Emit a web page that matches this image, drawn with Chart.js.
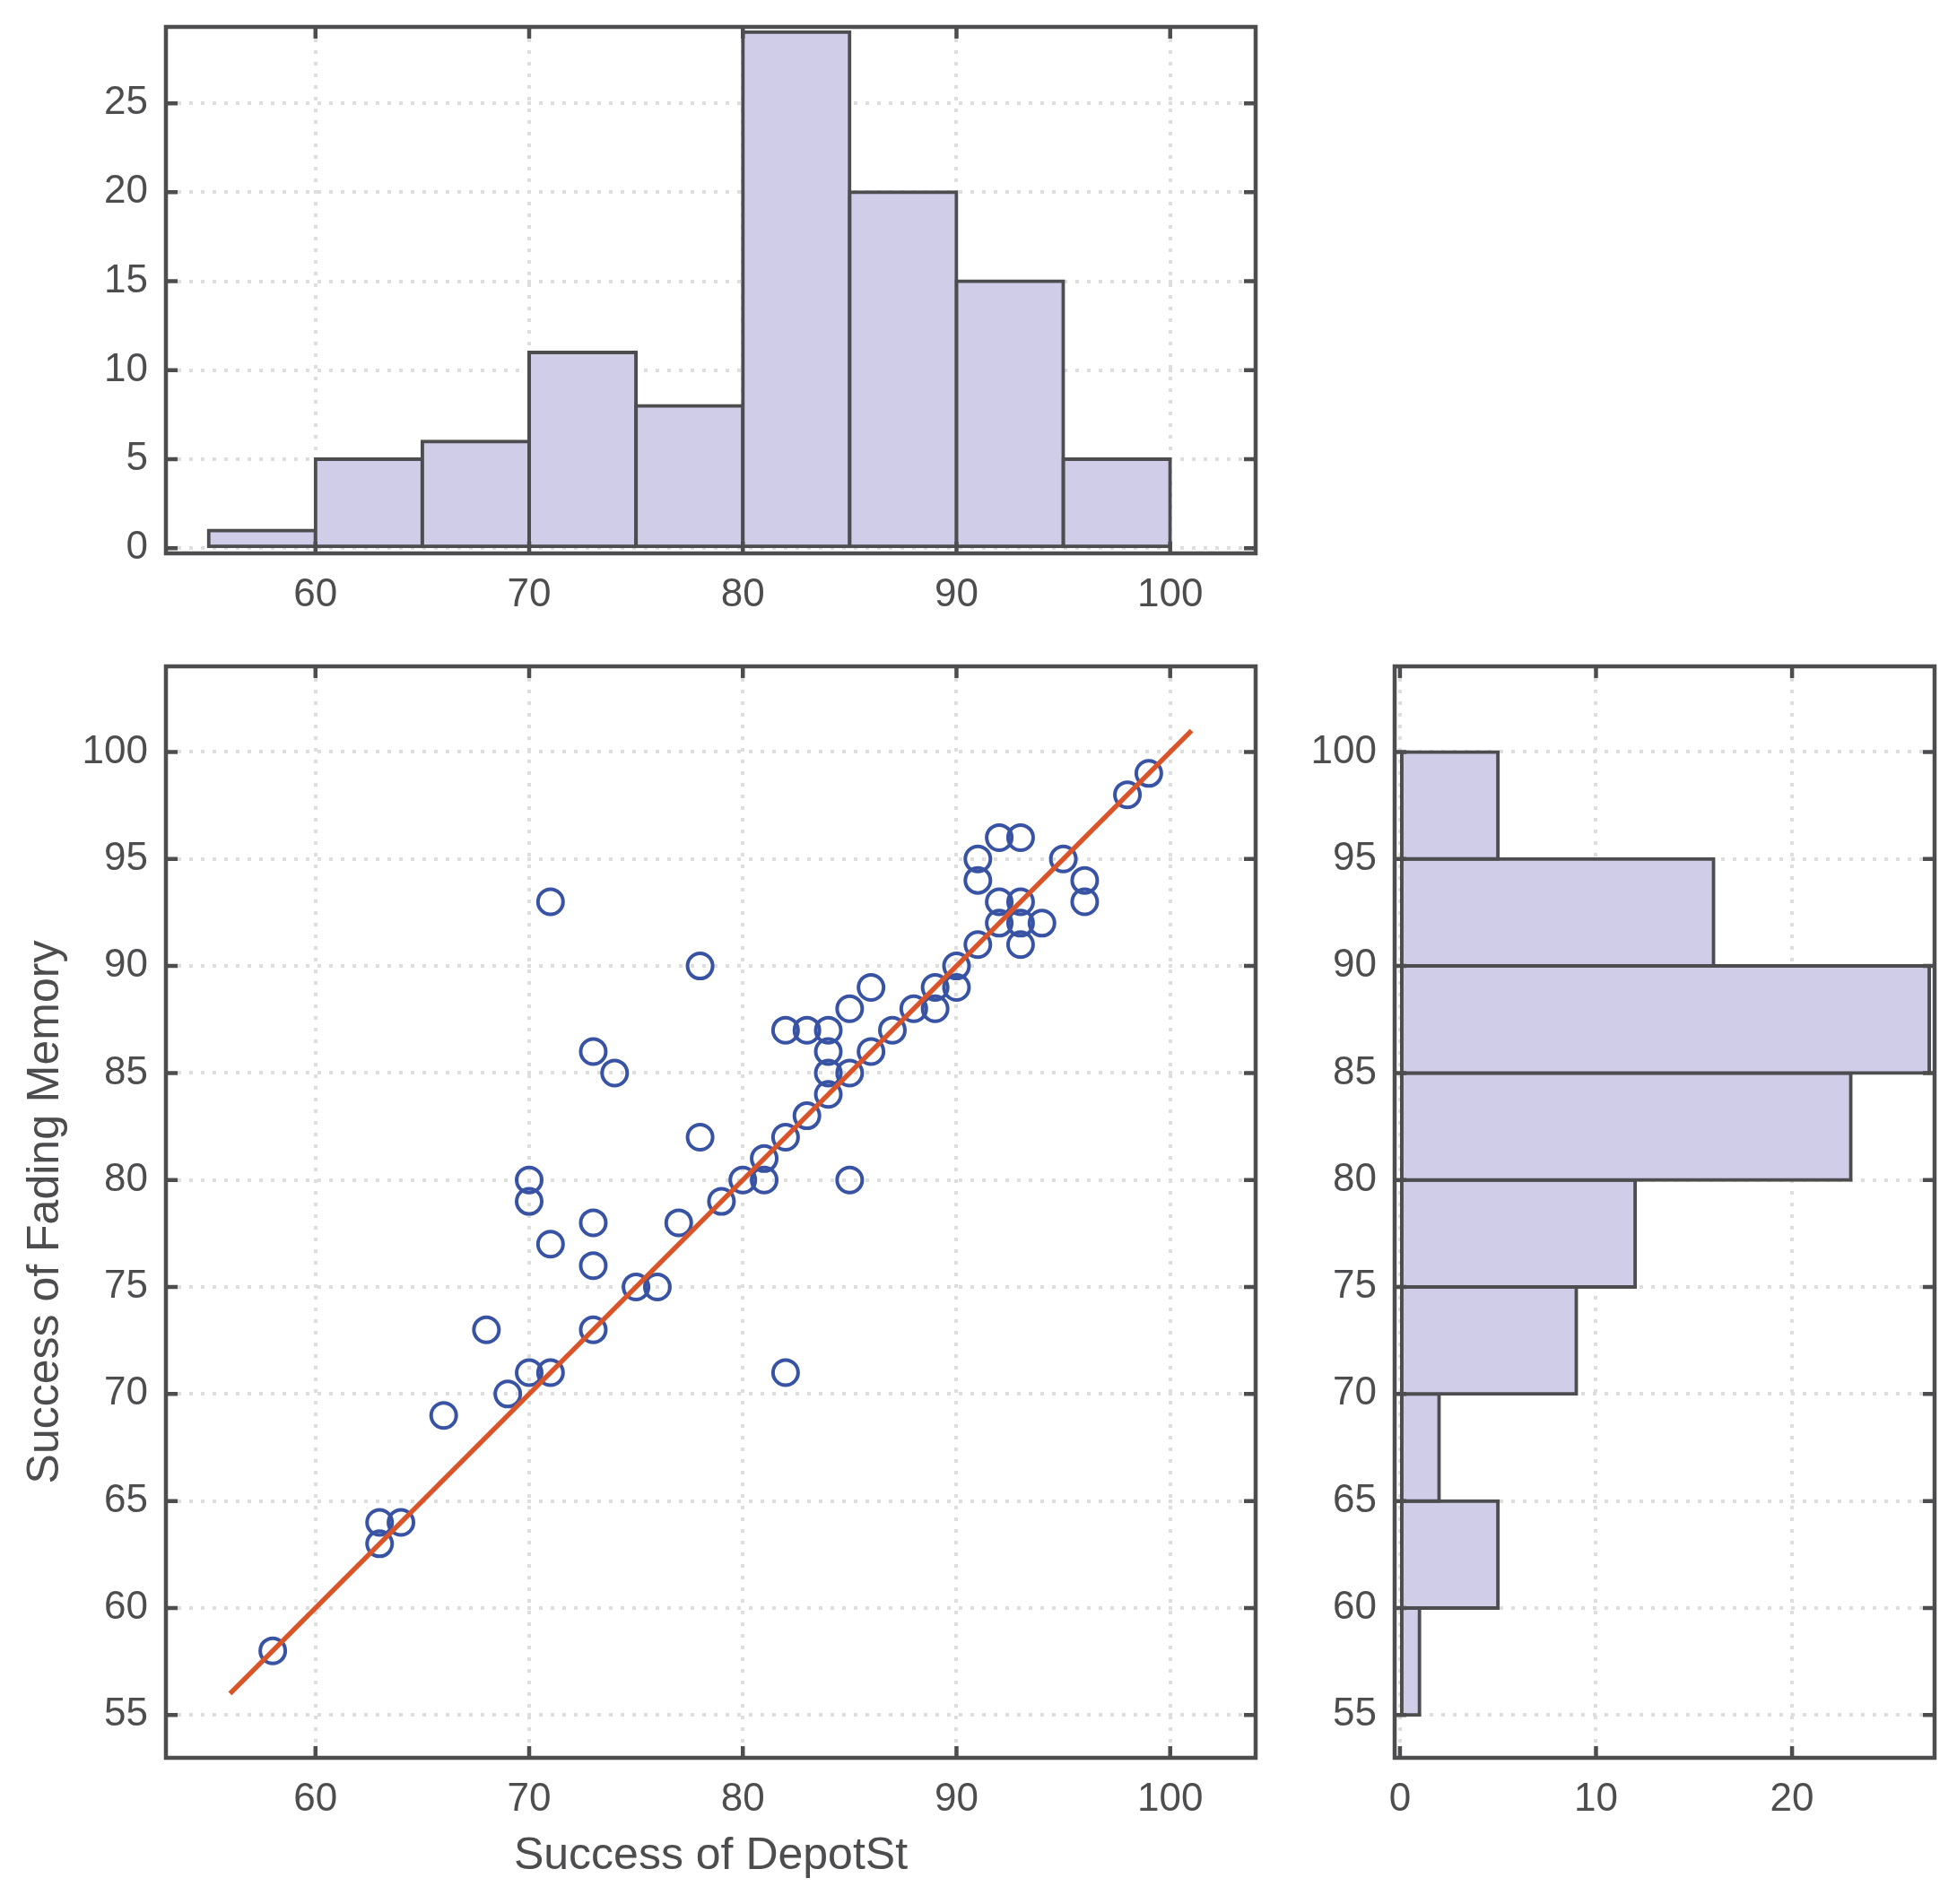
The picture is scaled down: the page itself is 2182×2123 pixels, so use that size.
<!DOCTYPE html>
<html>
<head>
<meta charset="utf-8">
<script src="https://cdn.jsdelivr.net/npm/chart.js@4.4.1/dist/chart.umd.min.js"></script>
<style>
  html, body { margin: 0; padding: 0; background: #fff; }
  body { width: 2182px; height: 2123px; position: relative; overflow: hidden; }
  .box { position: absolute; }
  #topBox  { left: 0;      top: 0;     width: 1420px; height: 700px; }
  #mainBox { left: 0;      top: 700px; width: 1420px; height: 1423px; }
  #sideBox { left: 1420px; top: 700px; width: 762px;  height: 1423px; }
</style>
</head>
<body>
<div class="box" id="topBox"><canvas id="topHist"></canvas></div>
<div class="box" id="mainBox"><canvas id="scatter"></canvas></div>
<div class="box" id="sideBox"><canvas id="sideHist"></canvas></div>
<script>
// bins (5 wide, from 55 to 100)
const binCenters = [57.5, 62.5, 67.5, 72.5, 77.5, 82.5, 87.5, 92.5, 97.5];
const depotCounts = [1, 5, 6, 11, 8, 29, 20, 15, 5];
const fadingCounts = [1, 5, 2, 9, 12, 23, 27, 16, 5];

// scatter points (visible ones)
const depotSt = [58, 63, 63, 64, 66, 68, 69, 70, 71, 70, 70, 71, 71, 73, 74, 73, 73, 73,
  75, 76, 77, 78, 78, 79, 80, 81, 81, 82, 82, 83, 84, 84, 84, 84, 83, 85, 85, 86, 86,
  87, 88, 89, 89, 90, 90, 91, 91, 91, 92, 93, 92, 92, 93, 93, 93, 94, 95, 96, 96, 98,
  99, 85, 82];
const fadingMem = [58, 64, 63, 64, 69, 73, 70, 71, 71, 80, 79, 77, 93, 86, 85, 78, 76, 73,
  75, 75, 78, 90, 82, 79, 80, 81, 80, 82, 87, 87, 87, 86, 85, 84, 83, 85, 88, 89, 86,
  87, 88, 89, 88, 90, 89, 91, 95, 94, 96, 96, 93, 92, 93, 92, 91, 92, 95, 94, 93, 98,
  99, 80, 71];
const fitEnds = [56, 101];

const scoreTicks = [55, 60, 65, 70, 75, 80, 85, 90, 95, 100];
const depotTicks = [60, 70, 80, 90, 100];
const topCountTicks = [0, 5, 10, 15, 20, 25];
const sideCountTicks = [0, 10, 20];

const TEXT = '#4d4d4f';
const AXIS = '#4d4d4f';
const GRID = '#dedede';
const FILL = '#cfcde8';
const BLUE = '#3953a4';
const ORANGE = '#d95428';
const FONT = '"Liberation Sans", Arial, Helvetica, sans-serif';

// box round the plot area and inward ticks on all four sides
const boxTicks = {
  id: 'boxTicks',
  afterDraw(chart) {
    const {ctx, chartArea: a, scales} = chart;
    const len = 13;
    ctx.save();
    ctx.strokeStyle = AXIS;
    ctx.lineWidth = 4.5;
    ctx.beginPath();
    scales.x.ticks.forEach(t => {
      const px = scales.x.getPixelForValue(t.value);
      ctx.moveTo(px, a.bottom); ctx.lineTo(px, a.bottom - len);
      ctx.moveTo(px, a.top); ctx.lineTo(px, a.top + len);
    });
    scales.y.ticks.forEach(t => {
      const py = scales.y.getPixelForValue(t.value);
      ctx.moveTo(a.left, py); ctx.lineTo(a.left + len, py);
      ctx.moveTo(a.right, py); ctx.lineTo(a.right - len, py);
    });
    ctx.stroke();
    ctx.strokeRect(a.left, a.top, a.right - a.left, a.bottom - a.top);
    ctx.restore();
  }
};

function axis(min, max, ticks, size, extra) {
  return Object.assign({
    type: 'linear',
    min: min,
    max: max,
    offset: false,
    afterBuildTicks: s => { s.ticks = ticks.map(v => ({value: v})); },
    afterFit: s => {
      if (s.isHorizontal()) s.height = size; else s.width = size;
      s.paddingTop = s.paddingBottom = s.paddingLeft = s.paddingRight = 0;
    },
    grid: {color: GRID, lineWidth: 4, drawTicks: false, offset: false},
    border: {display: false, dash: [4, 9]},
    ticks: {color: TEXT, font: {family: FONT, size: 44}, padding: 20, autoSkip: false, maxRotation: 0}
  }, extra || {});
}

function axisTitle(text) {
  return {display: true, text: text, color: TEXT, font: {family: FONT, size: 50}, padding: {top: 21, bottom: 23}};
}

const common = {
  responsive: true,
  maintainAspectRatio: false,
  animation: false,
  devicePixelRatio: 1,
  plugins: {legend: {display: false}, tooltip: {enabled: false}}
};

const barStyle = {
  backgroundColor: FILL,
  borderColor: AXIS,
  borderWidth: 4,
  borderSkipped: false,
  inflateAmount: 2,
  barPercentage: 1,
  categoryPercentage: 1
};

// top histogram: DepotSt
new Chart(document.getElementById('topHist'), {
  type: 'bar',
  data: {
    datasets: [Object.assign({
      data: binCenters.map((c, i) => ({x: c, y: depotCounts[i]}))
    }, barStyle)]
  },
  options: Object.assign({}, common, {
    layout: {padding: {left: 0, top: 30, right: 20, bottom: 0}},
    scales: {
      x: axis(53, 104, depotTicks, 83),
      y: axis(-0.29, 29.29, topCountTicks, 185)
    }
  }),
  plugins: [boxTicks]
});

// scatter with fit line
new Chart(document.getElementById('scatter'), {
  type: 'scatter',
  data: {
    datasets: [{
      type: 'line',
      data: fitEnds.map(v => ({x: v, y: v})),
      borderColor: ORANGE,
      borderWidth: 5.5,
      pointRadius: 0,
      order: 0
    }, {
      data: depotSt.map((v, i) => ({x: v, y: fadingMem[i]})),
      pointRadius: 14,
      pointBorderWidth: 4,
      pointBorderColor: BLUE,
      pointBackgroundColor: 'rgba(0,0,0,0)',
      order: 1
    }]
  },
  options: Object.assign({}, common, {
    layout: {padding: {left: 0, top: 43, right: 20, bottom: 0}},
    scales: {
      x: axis(53, 104, depotTicks, 163, {title: axisTitle('Success of DepotSt')}),
      y: axis(53, 104, scoreTicks, 185, {title: axisTitle('Success of Fading Memory')})
    }
  }),
  plugins: [boxTicks]
});

// side histogram: Fading Memory
new Chart(document.getElementById('sideHist'), {
  type: 'bar',
  data: {
    datasets: [Object.assign({
      data: binCenters.map((c, i) => ({x: fadingCounts[i], y: c}))
    }, barStyle)]
  },
  options: Object.assign({}, common, {
    indexAxis: 'y',
    layout: {padding: {left: 0, top: 43, right: 25, bottom: 0}},
    scales: {
      x: axis(-0.27, 27.27, sideCountTicks, 163),
      y: axis(53, 104, scoreTicks, 135)
    }
  }),
  plugins: [boxTicks]
});
</script>
</body>
</html>
